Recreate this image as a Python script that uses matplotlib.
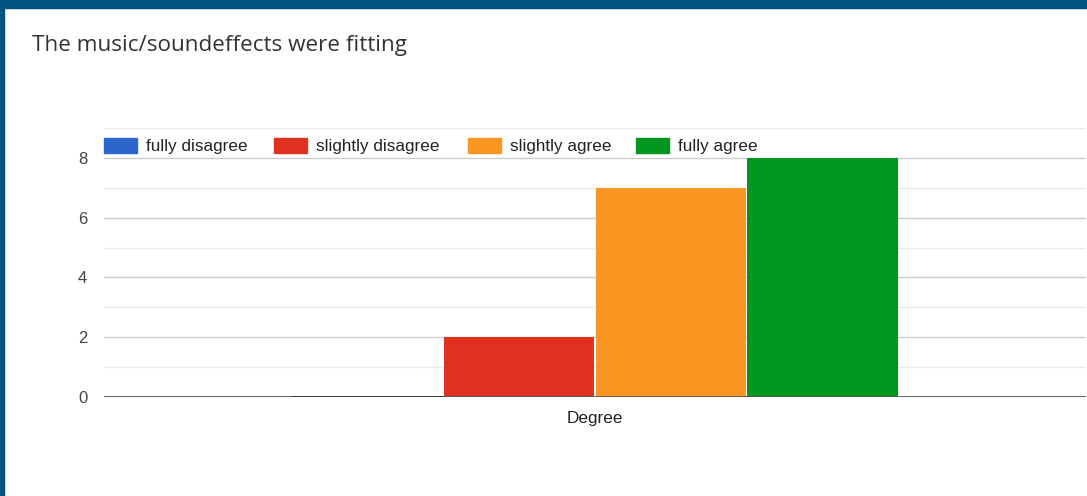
import matplotlib
matplotlib.use("Agg")
import matplotlib.pyplot as plt
from matplotlib.patches import Rectangle
import numpy as np

title = "The music/soundeffects were fitting"
category = ["Degree"]
series_names = ["fully disagree", "slightly disagree", "slightly agree", "fully agree"]
series_values = [0, 2, 7, 8]
series_colors = ["#2a66cc", "#e0301f", "#fb9623", "#00961f"]
y_ticks = [0, 2, 4, 6, 8]

W, H = 1087, 496
fig = plt.figure(figsize=(W / 100, H / 100), dpi=100)
fig.patch.set_facecolor("white")

# frame of the page
fig.patches.append(Rectangle((0, 1 - 8 / H), 1, 8 / H, transform=fig.transFigure,
                             color="#00527f", zorder=0))
fig.patches.append(Rectangle((0, 0), 4 / W, 1, transform=fig.transFigure,
                             color="#00527f", zorder=0))

fig.text(32 / W, 1 - 45 / H, title, fontsize=16.2, family="Open Sans",
         color="#333333", va="center", ha="left")

ax = fig.add_axes([104 / W, 99 / H, (1086 - 104) / W, (397 - 128) / H])
ax.set_xlim(-0.5, 0.5)
ax.set_ylim(0, 9)

group_width = 0.618
n = len(series_values)
bw = group_width / n
offsets = (np.arange(n) - (n - 1) / 2) * bw
for off, val, col, name in zip(offsets, series_values, series_colors, series_names):
    ax.bar(0 + off, val, width=bw * 0.99, color=col, label=name, zorder=3)

# gridlines
for v in range(1, 10):
    ax.axhline(v, color="#cccccc" if v % 2 == 0 else "#ebebeb", lw=1, zorder=1)
ax.axhline(0, color="#555555", lw=1.3, zorder=4)
# zero-height bar shows as a darker baseline segment
ax.plot([offsets[0] - bw / 2, offsets[0] + bw / 2], [0, 0], color="#333333",
        lw=1.3, zorder=5)

for s in ax.spines.values():
    s.set_visible(False)
ax.set_yticks(y_ticks)
ax.set_yticklabels([str(t) for t in y_ticks], fontsize=12, family="Liberation Sans",
                   color="#444444")
ax.tick_params(axis="y", length=0, pad=12)
ax.set_xticks([0])
ax.set_xticklabels(category, fontsize=12.3, family="Liberation Sans", color="#222222")
ax.tick_params(axis="x", length=0, pad=10)

# legend row above the plot
legend_x = [104, 274, 468, 636]
for x0, name, col in zip(legend_x, series_names, series_colors):
    fig.patches.append(Rectangle((x0 / W, 1 - 153 / H), 33 / W, 15 / H,
                                 transform=fig.transFigure, color=col, zorder=5))
    fig.text((x0 + 42) / W, 1 - 147 / H, name, fontsize=12.3, family="Liberation Sans",
             color="#222222", va="center", ha="left")

fig.savefig("out.png", dpi=100)
